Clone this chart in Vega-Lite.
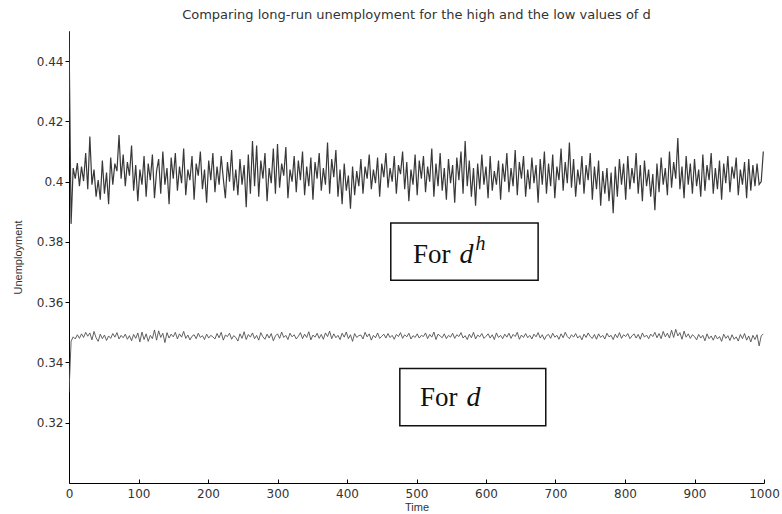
{
  "$schema": "https://vega.github.io/schema/vega-lite/v6.json",
  "autosize": "none",
  "width": 695,
  "height": 452,
  "padding": {"left": 69, "top": 31, "right": 18, "bottom": 31},
  "background": "white",
  "title": {
    "text": "Comparing long-run unemployment for the high and the low values of d",
    "font": "DejaVu Sans",
    "fontSize": 13,
    "fontWeight": "normal",
    "color": "#333",
    "anchor": "middle",
    "offset": 9
  },
  "datasets": {
    "series": [
      {"t":0,"h":0.4500,"l":0.3300},{"t":3,"h":0.3860,"l":0.3470},{"t":6,"h":0.4045,"l":0.3485},{"t":9,"h":0.4010,"l":0.3478},{"t":12,"h":0.4062,"l":0.3492},{"t":15,"h":0.3985,"l":0.3480},{"t":18,"h":0.4050,"l":0.3495},{"t":21,"h":0.4002,"l":0.3483},{"t":24,"h":0.4095,"l":0.3500},{"t":27,"h":0.3975,"l":0.3487},
      {"t":30,"h":0.4150,"l":0.3498},{"t":33,"h":0.3990,"l":0.3475},{"t":36,"h":0.4040,"l":0.3503},{"t":39,"h":0.3950,"l":0.3482},{"t":42,"h":0.4005,"l":0.3470},{"t":45,"h":0.3940,"l":0.3494},{"t":48,"h":0.4070,"l":0.3479},{"t":51,"h":0.3960,"l":0.3491},{"t":54,"h":0.4030,"l":0.3473},{"t":57,"h":0.3925,"l":0.3488},
      {"t":60,"h":0.4080,"l":0.3480},{"t":63,"h":0.3990,"l":0.3496},{"t":66,"h":0.4060,"l":0.3484},{"t":69,"h":0.4035,"l":0.3499},{"t":72,"h":0.4155,"l":0.3478},{"t":75,"h":0.4010,"l":0.3490},{"t":78,"h":0.4090,"l":0.3482},{"t":81,"h":0.3985,"l":0.3494},{"t":84,"h":0.4065,"l":0.3477},{"t":87,"h":0.4020,"l":0.3489},
      {"t":90,"h":0.4120,"l":0.3472},{"t":93,"h":0.3970,"l":0.3493},{"t":96,"h":0.4055,"l":0.3480},{"t":99,"h":0.3935,"l":0.3498},{"t":102,"h":0.4040,"l":0.3468},{"t":105,"h":0.3990,"l":0.3501},{"t":108,"h":0.4085,"l":0.3476},{"t":111,"h":0.3950,"l":0.3495},{"t":114,"h":0.4060,"l":0.3470},{"t":117,"h":0.4005,"l":0.3490},
      {"t":120,"h":0.4090,"l":0.3479},{"t":123,"h":0.3945,"l":0.3508},{"t":126,"h":0.4035,"l":0.3474},{"t":129,"h":0.4075,"l":0.3505},{"t":132,"h":0.3960,"l":0.3483},{"t":135,"h":0.4100,"l":0.3497},{"t":138,"h":0.3990,"l":0.3466},{"t":141,"h":0.4045,"l":0.3499},{"t":144,"h":0.3925,"l":0.3481},{"t":147,"h":0.4080,"l":0.3494},
      {"t":150,"h":0.4010,"l":0.3485},{"t":153,"h":0.4095,"l":0.3500},{"t":156,"h":0.3970,"l":0.3478},{"t":159,"h":0.4050,"l":0.3495},{"t":162,"h":0.3995,"l":0.3484},{"t":165,"h":0.4110,"l":0.3503},{"t":168,"h":0.3955,"l":0.3480},{"t":171,"h":0.4040,"l":0.3491},{"t":174,"h":0.4005,"l":0.3475},{"t":177,"h":0.4085,"l":0.3487},
      {"t":180,"h":0.3940,"l":0.3492},{"t":183,"h":0.4060,"l":0.3479},{"t":186,"h":0.4020,"l":0.3497},{"t":189,"h":0.4100,"l":0.3483},{"t":192,"h":0.3975,"l":0.3489},{"t":195,"h":0.4040,"l":0.3476},{"t":198,"h":0.3930,"l":0.3494},{"t":201,"h":0.4070,"l":0.3481},{"t":204,"h":0.4005,"l":0.3490},{"t":207,"h":0.4095,"l":0.3485},
      {"t":210,"h":0.3965,"l":0.3478},{"t":213,"h":0.4050,"l":0.3496},{"t":216,"h":0.3990,"l":0.3482},{"t":219,"h":0.4085,"l":0.3500},{"t":222,"h":0.4010,"l":0.3474},{"t":225,"h":0.3945,"l":0.3491},{"t":228,"h":0.4065,"l":0.3486},{"t":231,"h":0.4000,"l":0.3497},{"t":234,"h":0.4105,"l":0.3477},{"t":237,"h":0.3970,"l":0.3489},
      {"t":240,"h":0.4040,"l":0.3483},{"t":243,"h":0.3955,"l":0.3471},{"t":246,"h":0.4075,"l":0.3495},{"t":249,"h":0.3990,"l":0.3480},{"t":252,"h":0.4055,"l":0.3502},{"t":255,"h":0.3915,"l":0.3476},{"t":258,"h":0.4090,"l":0.3493},{"t":261,"h":0.3960,"l":0.3484},{"t":264,"h":0.4135,"l":0.3498},{"t":267,"h":0.3985,"l":0.3479},
      {"t":270,"h":0.4120,"l":0.3490},{"t":273,"h":0.3950,"l":0.3474},{"t":276,"h":0.4070,"l":0.3499},{"t":279,"h":0.4010,"l":0.3485},{"t":282,"h":0.4095,"l":0.3477},{"t":285,"h":0.3935,"l":0.3494},{"t":288,"h":0.4045,"l":0.3481},{"t":291,"h":0.3995,"l":0.3496},{"t":294,"h":0.4110,"l":0.3472},{"t":297,"h":0.3960,"l":0.3488},
      {"t":300,"h":0.4125,"l":0.3495},{"t":303,"h":0.3980,"l":0.3480},{"t":306,"h":0.4060,"l":0.3501},{"t":309,"h":0.4020,"l":0.3483},{"t":312,"h":0.4115,"l":0.3490},{"t":315,"h":0.3945,"l":0.3476},{"t":318,"h":0.4040,"l":0.3497},{"t":321,"h":0.4000,"l":0.3485},{"t":324,"h":0.4085,"l":0.3492},{"t":327,"h":0.3965,"l":0.3478},
      {"t":330,"h":0.4070,"l":0.3487},{"t":333,"h":0.4005,"l":0.3499},{"t":336,"h":0.4100,"l":0.3479},{"t":339,"h":0.3955,"l":0.3494},{"t":342,"h":0.4050,"l":0.3483},{"t":345,"h":0.3985,"l":0.3502},{"t":348,"h":0.4080,"l":0.3475},{"t":351,"h":0.3940,"l":0.3491},{"t":354,"h":0.4065,"l":0.3484},{"t":357,"h":0.4010,"l":0.3497},
      {"t":360,"h":0.4095,"l":0.3480},{"t":363,"h":0.3970,"l":0.3493},{"t":366,"h":0.4045,"l":0.3477},{"t":369,"h":0.3990,"l":0.3498},{"t":372,"h":0.4130,"l":0.3486},{"t":375,"h":0.3960,"l":0.3504},{"t":378,"h":0.4075,"l":0.3479},{"t":381,"h":0.4015,"l":0.3495},{"t":384,"h":0.4105,"l":0.3482},{"t":387,"h":0.3950,"l":0.3490},
      {"t":390,"h":0.4040,"l":0.3476},{"t":393,"h":0.3925,"l":0.3497},{"t":396,"h":0.4060,"l":0.3484},{"t":399,"h":0.3970,"l":0.3501},{"t":402,"h":0.4020,"l":0.3479},{"t":405,"h":0.3910,"l":0.3492},{"t":408,"h":0.4050,"l":0.3470},{"t":411,"h":0.3955,"l":0.3496},{"t":414,"h":0.4035,"l":0.3483},{"t":417,"h":0.3985,"l":0.3489},
      {"t":420,"h":0.4075,"l":0.3491},{"t":423,"h":0.3960,"l":0.3478},{"t":426,"h":0.4050,"l":0.3500},{"t":429,"h":0.4010,"l":0.3485},{"t":432,"h":0.4090,"l":0.3495},{"t":435,"h":0.3975,"l":0.3474},{"t":438,"h":0.4040,"l":0.3490},{"t":441,"h":0.3995,"l":0.3482},{"t":444,"h":0.4080,"l":0.3498},{"t":447,"h":0.3950,"l":0.3480},
      {"t":450,"h":0.4060,"l":0.3487},{"t":453,"h":0.4015,"l":0.3494},{"t":456,"h":0.4095,"l":0.3481},{"t":459,"h":0.3980,"l":0.3496},{"t":462,"h":0.4045,"l":0.3483},{"t":465,"h":0.4000,"l":0.3490},{"t":468,"h":0.4085,"l":0.3477},{"t":471,"h":0.3960,"l":0.3493},{"t":474,"h":0.4055,"l":0.3486},{"t":477,"h":0.4025,"l":0.3499},
      {"t":480,"h":0.4100,"l":0.3480},{"t":483,"h":0.3975,"l":0.3492},{"t":486,"h":0.4065,"l":0.3485},{"t":489,"h":0.3935,"l":0.3497},{"t":492,"h":0.4040,"l":0.3478},{"t":495,"h":0.3990,"l":0.3489},{"t":498,"h":0.4090,"l":0.3483},{"t":501,"h":0.3955,"l":0.3495},{"t":504,"h":0.4070,"l":0.3481},{"t":507,"h":0.4010,"l":0.3490},
      {"t":510,"h":0.4085,"l":0.3486},{"t":513,"h":0.3965,"l":0.3498},{"t":516,"h":0.4050,"l":0.3479},{"t":519,"h":0.4000,"l":0.3493},{"t":522,"h":0.4110,"l":0.3484},{"t":525,"h":0.3950,"l":0.3501},{"t":528,"h":0.4060,"l":0.3476},{"t":531,"h":0.3985,"l":0.3494},{"t":534,"h":0.4095,"l":0.3488},{"t":537,"h":0.3970,"l":0.3482},
      {"t":540,"h":0.4045,"l":0.3495},{"t":543,"h":0.3940,"l":0.3479},{"t":546,"h":0.4075,"l":0.3490},{"t":549,"h":0.3995,"l":0.3484},{"t":552,"h":0.4055,"l":0.3497},{"t":555,"h":0.3930,"l":0.3480},{"t":558,"h":0.4080,"l":0.3492},{"t":561,"h":0.4005,"l":0.3486},{"t":564,"h":0.4100,"l":0.3499},{"t":567,"h":0.3960,"l":0.3481},
      {"t":570,"h":0.4135,"l":0.3489},{"t":573,"h":0.3985,"l":0.3476},{"t":576,"h":0.4070,"l":0.3494},{"t":579,"h":0.3950,"l":0.3482},{"t":582,"h":0.4045,"l":0.3500},{"t":585,"h":0.3920,"l":0.3478},{"t":588,"h":0.4060,"l":0.3491},{"t":591,"h":0.3975,"l":0.3485},{"t":594,"h":0.4090,"l":0.3496},{"t":597,"h":0.3990,"l":0.3480},
      {"t":600,"h":0.4050,"l":0.3487},{"t":603,"h":0.3945,"l":0.3495},{"t":606,"h":0.4085,"l":0.3481},{"t":609,"h":0.3970,"l":0.3492},{"t":612,"h":0.4035,"l":0.3476},{"t":615,"h":0.3990,"l":0.3498},{"t":618,"h":0.4070,"l":0.3483},{"t":621,"h":0.3940,"l":0.3490},{"t":624,"h":0.4060,"l":0.3479},{"t":627,"h":0.4000,"l":0.3494},
      {"t":630,"h":0.4095,"l":0.3484},{"t":633,"h":0.3965,"l":0.3497},{"t":636,"h":0.4045,"l":0.3480},{"t":639,"h":0.3985,"l":0.3493},{"t":642,"h":0.4105,"l":0.3486},{"t":645,"h":0.3955,"l":0.3500},{"t":648,"h":0.4065,"l":0.3477},{"t":651,"h":0.4010,"l":0.3491},{"t":654,"h":0.4085,"l":0.3483},{"t":657,"h":0.3950,"l":0.3496},
      {"t":660,"h":0.4040,"l":0.3482},{"t":663,"h":0.3975,"l":0.3490},{"t":666,"h":0.4080,"l":0.3478},{"t":669,"h":0.3995,"l":0.3494},{"t":672,"h":0.4055,"l":0.3485},{"t":675,"h":0.3930,"l":0.3499},{"t":678,"h":0.4075,"l":0.3481},{"t":681,"h":0.3990,"l":0.3492},{"t":684,"h":0.4100,"l":0.3476},{"t":687,"h":0.3960,"l":0.3489},
      {"t":690,"h":0.4060,"l":0.3493},{"t":693,"h":0.3985,"l":0.3480},{"t":696,"h":0.4090,"l":0.3497},{"t":699,"h":0.3945,"l":0.3484},{"t":702,"h":0.4050,"l":0.3490},{"t":705,"h":0.4005,"l":0.3477},{"t":708,"h":0.4110,"l":0.3495},{"t":711,"h":0.3970,"l":0.3482},{"t":714,"h":0.4065,"l":0.3500},{"t":717,"h":0.3995,"l":0.3486},
      {"t":720,"h":0.4130,"l":0.3479},{"t":723,"h":0.3980,"l":0.3492},{"t":726,"h":0.4075,"l":0.3484},{"t":729,"h":0.3950,"l":0.3496},{"t":732,"h":0.4040,"l":0.3481},{"t":735,"h":0.3990,"l":0.3489},{"t":738,"h":0.4085,"l":0.3475},{"t":741,"h":0.3960,"l":0.3494},{"t":744,"h":0.4055,"l":0.3483},{"t":747,"h":0.4005,"l":0.3498},
      {"t":750,"h":0.4095,"l":0.3486},{"t":753,"h":0.3940,"l":0.3480},{"t":756,"h":0.4050,"l":0.3493},{"t":759,"h":0.3975,"l":0.3477},{"t":762,"h":0.4070,"l":0.3495},{"t":765,"h":0.3920,"l":0.3483},{"t":768,"h":0.4035,"l":0.3490},{"t":771,"h":0.3960,"l":0.3478},{"t":774,"h":0.4045,"l":0.3497},{"t":777,"h":0.3935,"l":0.3485},
      {"t":780,"h":0.4030,"l":0.3490},{"t":783,"h":0.3895,"l":0.3476},{"t":786,"h":0.4050,"l":0.3494},{"t":789,"h":0.3950,"l":0.3482},{"t":792,"h":0.4075,"l":0.3499},{"t":795,"h":0.3990,"l":0.3480},{"t":798,"h":0.4060,"l":0.3492},{"t":801,"h":0.3940,"l":0.3486},{"t":804,"h":0.4085,"l":0.3496},{"t":807,"h":0.3975,"l":0.3479},
      {"t":810,"h":0.4045,"l":0.3488},{"t":813,"h":0.3995,"l":0.3495},{"t":816,"h":0.4095,"l":0.3481},{"t":819,"h":0.3960,"l":0.3493},{"t":822,"h":0.4055,"l":0.3477},{"t":825,"h":0.3935,"l":0.3498},{"t":828,"h":0.4070,"l":0.3484},{"t":831,"h":0.3985,"l":0.3491},{"t":834,"h":0.4040,"l":0.3479},{"t":837,"h":0.3950,"l":0.3494},
      {"t":840,"h":0.4025,"l":0.3486},{"t":843,"h":0.3905,"l":0.3500},{"t":846,"h":0.4060,"l":0.3482},{"t":849,"h":0.3965,"l":0.3496},{"t":852,"h":0.4080,"l":0.3479},{"t":855,"h":0.3990,"l":0.3503},{"t":858,"h":0.4045,"l":0.3485},{"t":861,"h":0.3955,"l":0.3497},{"t":864,"h":0.4100,"l":0.3481},{"t":867,"h":0.3980,"l":0.3507},
      {"t":870,"h":0.4065,"l":0.3483},{"t":873,"h":0.4010,"l":0.3510},{"t":876,"h":0.4145,"l":0.3488},{"t":879,"h":0.3975,"l":0.3499},{"t":882,"h":0.4050,"l":0.3477},{"t":885,"h":0.3945,"l":0.3504},{"t":888,"h":0.4085,"l":0.3484},{"t":891,"h":0.3990,"l":0.3495},{"t":894,"h":0.4060,"l":0.3480},{"t":897,"h":0.3960,"l":0.3492},
      {"t":900,"h":0.4075,"l":0.3486},{"t":903,"h":0.3985,"l":0.3475},{"t":906,"h":0.4040,"l":0.3493},{"t":909,"h":0.3950,"l":0.3481},{"t":912,"h":0.4090,"l":0.3490},{"t":915,"h":0.3970,"l":0.3472},{"t":918,"h":0.4055,"l":0.3495},{"t":921,"h":0.4005,"l":0.3479},{"t":924,"h":0.4095,"l":0.3488},{"t":927,"h":0.3960,"l":0.3474},
      {"t":930,"h":0.4045,"l":0.3491},{"t":933,"h":0.3975,"l":0.3478},{"t":936,"h":0.4070,"l":0.3486},{"t":939,"h":0.3940,"l":0.3470},{"t":942,"h":0.4060,"l":0.3494},{"t":945,"h":0.3995,"l":0.3480},{"t":948,"h":0.4085,"l":0.3489},{"t":951,"h":0.3965,"l":0.3473},{"t":954,"h":0.4050,"l":0.3492},{"t":957,"h":0.4010,"l":0.3477},
      {"t":960,"h":0.4080,"l":0.3485},{"t":963,"h":0.3955,"l":0.3471},{"t":966,"h":0.4040,"l":0.3493},{"t":969,"h":0.3990,"l":0.3479},{"t":972,"h":0.4065,"l":0.3496},{"t":975,"h":0.3945,"l":0.3474},{"t":978,"h":0.4075,"l":0.3488},{"t":981,"h":0.3970,"l":0.3468},{"t":984,"h":0.4055,"l":0.3490},{"t":987,"h":0.3985,"l":0.3476},
      {"t":990,"h":0.4060,"l":0.3492},{"t":993,"h":0.3990,"l":0.3455},{"t":996,"h":0.4000,"l":0.3488},{"t":999,"h":0.4100,"l":0.3495}
    ],
    "boxes": [
      {"x": 463, "x2": 675, "y": 0.3863, "y2": 0.3673},
      {"x": 476, "x2": 686, "y": 0.3380, "y2": 0.3190}
    ],
    "forlabels": [
      {"x": 495, "y": 0.3730},
      {"x": 505, "y": 0.3257}
    ],
    "dlabels": [
      {"x": 562, "y": 0.3730},
      {"x": 572, "y": 0.3257}
    ],
    "hlabels": [
      {"x": 585, "y": 0.3772}
    ]
  },
  "layer": [
    {
      "data": {"name": "series"},
      "mark": {"type": "line", "color": "#383838", "strokeWidth": 1.2, "clip": true},
      "encoding": {
        "x": {
          "field": "t", "type": "quantitative", "title": "Time",
          "scale": {"domain": [0, 1000], "nice": false},
          "axis": {"values": [0, 100, 200, 300, 400, 500, 600, 700, 800, 900, 1000], "format": "d", "tickSize": -4, "labelPadding": 9, "titlePadding": 2, "labelFlush": false}
        },
        "y": {
          "field": "h", "type": "quantitative", "title": "Unemployment",
          "scale": {"domain": [0.30, 0.45], "nice": false, "zero": false},
          "axis": {"values": [0.32, 0.34, 0.36, 0.38, 0.40, 0.42, 0.44], "format": "~g", "tickSize": 4, "labelPadding": 2, "titlePadding": 13}
        }
      }
    },
    {
      "data": {"name": "series"},
      "mark": {"type": "line", "color": "#505050", "strokeWidth": 0.9, "clip": true},
      "encoding": {
        "x": {"field": "t", "type": "quantitative", "title": "Time"},
        "y": {"field": "l", "type": "quantitative", "title": "Unemployment"}
      }
    },
    {
      "data": {"name": "boxes"},
      "mark": {"type": "rect", "fill": "white", "stroke": "#111", "strokeWidth": 1.5},
      "encoding": {
        "x": {"field": "x", "type": "quantitative", "title": "Time"},
        "x2": {"field": "x2"},
        "y": {"field": "y", "type": "quantitative", "title": "Unemployment"},
        "y2": {"field": "y2"}
      }
    },
    {
      "data": {"name": "forlabels"},
      "mark": {"type": "text", "text": "For", "font": "Liberation Serif", "fontSize": 27, "align": "left", "baseline": "alphabetic", "color": "#111"},
      "encoding": {
        "x": {"field": "x", "type": "quantitative", "title": "Time"},
        "y": {"field": "y", "type": "quantitative", "title": "Unemployment"}
      }
    },
    {
      "data": {"name": "dlabels"},
      "mark": {"type": "text", "text": "d", "font": "Liberation Serif", "fontStyle": "italic", "fontSize": 28, "align": "left", "baseline": "alphabetic", "color": "#111"},
      "encoding": {
        "x": {"field": "x", "type": "quantitative", "title": "Time"},
        "y": {"field": "y", "type": "quantitative", "title": "Unemployment"}
      }
    },
    {
      "data": {"name": "hlabels"},
      "mark": {"type": "text", "text": "h", "font": "Liberation Serif", "fontStyle": "italic", "fontSize": 20, "align": "left", "baseline": "alphabetic", "color": "#111"},
      "encoding": {
        "x": {"field": "x", "type": "quantitative", "title": "Time"},
        "y": {"field": "y", "type": "quantitative", "title": "Unemployment"}
      }
    }
  ],
  "config": {
    "view": {"stroke": null},
    "axis": {
      "grid": false,
      "domainColor": "#000",
      "domainWidth": 1,
      "tickColor": "#000",
      "labelFont": "DejaVu Sans",
      "labelFontSize": 12,
      "labelColor": "#333",
      "titleFont": "Liberation Sans",
      "titleFontWeight": "normal",
      "titleColor": "#333",
      "titleFontSize": 11
    }
  }
}
